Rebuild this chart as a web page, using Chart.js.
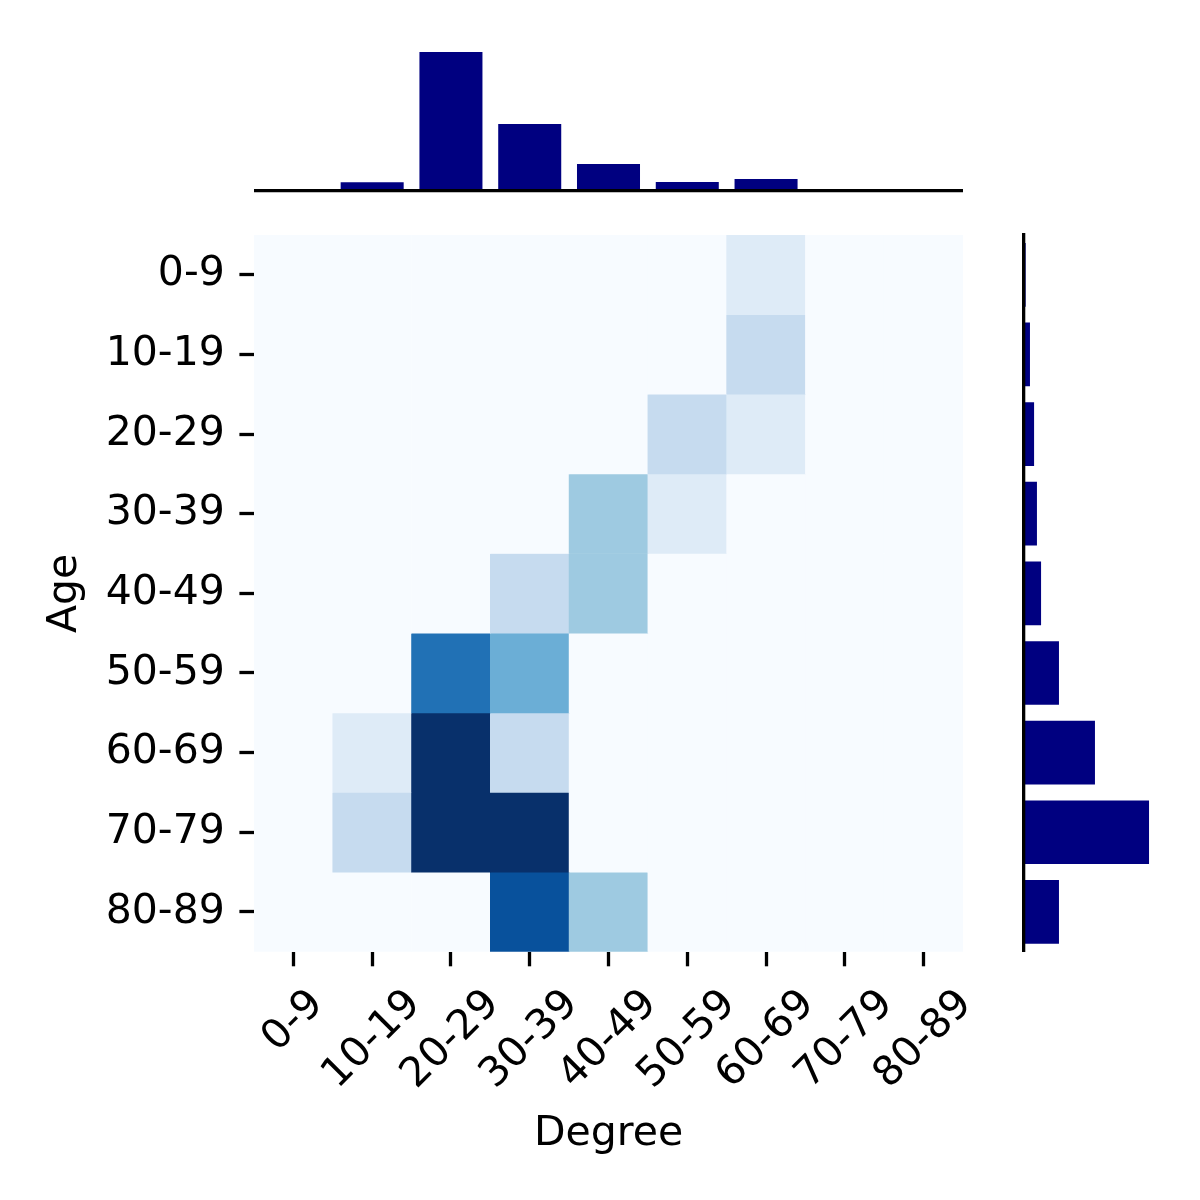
<!DOCTYPE html>
<html>
<head>
<meta charset="utf-8">
<script src="https://cdn.jsdelivr.net/npm/chart.js@4.4.1/dist/chart.umd.min.js"></script>
<style>
  html, body { margin: 0; padding: 0; background: #fff; }
  #stage { position: relative; width: 1200px; height: 1200px; }
  #stage canvas { position: absolute; }
</style>
</head>
<body>
<div id="stage">
  <canvas id="heat" width="1200" height="1200" style="left:0;top:0"></canvas>
  <canvas id="degreeHist" width="709" height="200" style="left:254px;top:0"></canvas>
  <canvas id="ageHist" width="190" height="730" style="left:1010px;top:230px"></canvas>
</div>
<script>
// categories
const DEGREE_LABELS = ['0-9', '10-19', '20-29', '30-39', '40-49', '50-59', '60-69', '70-79', '80-89'];
const AGE_LABELS    = ['0-9', '10-19', '20-29', '30-39', '40-49', '50-59', '60-69', '70-79', '80-89'];

// heatmap levels, one row per age group, one column per degree group
const HEAT_0_9   = [0, 0, 0, 0, 0, 0, 1, 0, 0];
const HEAT_10_19 = [0, 0, 0, 0, 0, 0, 2, 0, 0];
const HEAT_20_29 = [0, 0, 0, 0, 0, 2, 1, 0, 0];
const HEAT_30_39 = [0, 0, 0, 0, 3, 1, 0, 0, 0];
const HEAT_40_49 = [0, 0, 0, 2, 3, 0, 0, 0, 0];
const HEAT_50_59 = [0, 0, 6, 4, 0, 0, 0, 0, 0];
const HEAT_60_69 = [0, 1, 8, 2, 0, 0, 0, 0, 0];
const HEAT_70_79 = [0, 2, 8, 8, 0, 0, 0, 0, 0];
const HEAT_80_89 = [0, 0, 0, 7, 3, 0, 0, 0, 0];
const HEAT_ROWS = [HEAT_0_9, HEAT_10_19, HEAT_20_29, HEAT_30_39, HEAT_40_49,
                   HEAT_50_59, HEAT_60_69, HEAT_70_79, HEAT_80_89];
const HEAT_MAX = 8;

// marginal histograms
const DEGREE_TOTALS = [0, 3, 50, 24, 9.6, 3.1, 4.2, 0, 0];
const AGE_TOTALS    = [1.1, 3.5, 5.8, 7.4, 9.7, 19.7, 39.8, 70, 19.7];

const NAVY = '#000080';
const BLUES = ['#f7fbff', '#deebf7', '#c6dbef', '#9ecae1', '#6baed6',
               '#4292c6', '#2171b5', '#08519c', '#08306b'];

const FONT = 41;
const TICK_LEN = 14.6;
const TICK_W = 3.3;
const PAD = 14.6;

Chart.defaults.font.family = '"DejaVu Sans"';
Chart.defaults.color = '#000';

function hexToRgb(h) {
  const n = parseInt(h.slice(1), 16);
  return [(n >> 16) & 255, (n >> 8) & 255, n & 255];
}

function blues(v) {
  const t = Math.max(0, Math.min(1, v / HEAT_MAX)) * (BLUES.length - 1);
  const i = Math.min(Math.floor(t), BLUES.length - 2);
  const f = t - i;
  const a = hexToRgb(BLUES[i]);
  const b = hexToRgb(BLUES[i + 1]);
  const c = a.map((x, k) => Math.round(x + (b[k] - x) * f));
  return `rgb(${c[0]},${c[1]},${c[2]})`;
}

const BASE_OPTIONS = {
  responsive: false,
  animation: false,
  devicePixelRatio: 1,
  plugins: { legend: { display: false }, tooltip: { enabled: false } },
};

const TICK_GRID = {
  drawOnChartArea: false,
  drawTicks: true,
  tickLength: TICK_LEN,
  tickWidth: TICK_W,
  tickColor: '#000',
  offset: false,
};

// x tick labels rotated 45 deg and centred under their tick
const rotatedTickLabels = {
  id: 'rotatedTickLabels',
  afterDraw(chart) {
    const scale = chart.scales.x;
    const ctx = chart.ctx;
    const top = chart.chartArea.bottom + TICK_LEN + PAD;
    ctx.save();
    ctx.font = `${FONT}px "DejaVu Sans"`;
    ctx.fillStyle = '#000';
    ctx.textAlign = 'center';
    ctx.textBaseline = 'middle';
    scale.ticks.forEach((tick, i) => {
      const label = DEGREE_LABELS[i];
      const w = ctx.measureText(label).width;
      const half = (w + FONT * 1.164) * Math.SQRT1_2 / 2;
      ctx.save();
      ctx.translate(scale.getPixelForTick(i), top + half);
      ctx.rotate(-Math.PI / 4);
      ctx.fillText(label, 0, 0);
      ctx.restore();
    });
    ctx.restore();
  },
};

new Chart(document.getElementById('heat'), {
  type: 'bar',
  data: {
    labels: DEGREE_LABELS,
    datasets: AGE_LABELS.map((age, r) => ({
      label: age,
      data: DEGREE_LABELS.map(() => [r, r + 1]),
      backgroundColor: HEAT_ROWS[r].map(blues),
      borderWidth: 0,
      grouped: false,
      barPercentage: 1,
      categoryPercentage: 1,
    })),
  },
  options: {
    ...BASE_OPTIONS,
    layout: { padding: { top: 235, right: 237, left: 0, bottom: 0 } },
    scales: {
      x: {
        type: 'category',
        offset: true,
        grid: TICK_GRID,
        border: { display: false },
        ticks: { display: false },
        title: { display: true, text: 'Degree', color: '#000', font: { size: FONT }, padding: { top: 0, bottom: 41 } },
        afterFit: s => { s.height = 248.3; },
      },
      y: {
        type: 'linear',
        min: 0,
        max: 9,
        reverse: true,
        afterBuildTicks: s => { s.ticks = AGE_LABELS.map((_, i) => ({ value: i + 0.5 })); },
        ticks: {
          callback: (v, i) => AGE_LABELS[i],
          color: '#000',
          font: { size: FONT },
          padding: PAD,
          autoSkip: false,
        },
        grid: TICK_GRID,
        border: { display: false },
        title: { display: true, text: 'Age', color: '#000', font: { size: FONT }, padding: { top: 41, bottom: 0 } },
        afterFit: s => { s.width = 254; },
      },
    },
  },
  plugins: [rotatedTickLabels],
});

new Chart(document.getElementById('degreeHist'), {
  type: 'bar',
  data: {
    labels: DEGREE_LABELS,
    datasets: [{
      data: DEGREE_TOTALS,
      backgroundColor: NAVY,
      borderWidth: 0,
      barPercentage: 0.8,
      categoryPercentage: 1,
    }],
  },
  options: {
    ...BASE_OPTIONS,
    layout: { padding: { top: 45.1, right: 0, left: 0, bottom: 0 } },
    scales: {
      x: {
        type: 'category',
        offset: true,
        grid: { display: false },
        ticks: { display: false },
        border: { display: true, color: '#000', width: TICK_W, z: 1 },
        afterFit: s => { s.height = 200 - 190.6; },
      },
      y: { display: false, min: 0, max: 52.5 },
    },
  },
});

new Chart(document.getElementById('ageHist'), {
  type: 'bar',
  data: {
    labels: AGE_LABELS,
    datasets: [{
      data: AGE_TOTALS,
      backgroundColor: NAVY,
      borderWidth: 0,
      barPercentage: 0.8,
      categoryPercentage: 1,
    }],
  },
  options: {
    ...BASE_OPTIONS,
    indexAxis: 'y',
    layout: { padding: { top: 5, right: 44.7, left: 0, bottom: 8.3 } },
    scales: {
      y: {
        type: 'category',
        offset: true,
        grid: { display: false },
        ticks: { display: false },
        border: { display: true, color: '#000', width: TICK_W, z: 1 },
        afterFit: s => { s.width = 13.7; },
      },
      x: { display: false, min: 0, max: 73.5 },
    },
  },
});
</script>
</body>
</html>
